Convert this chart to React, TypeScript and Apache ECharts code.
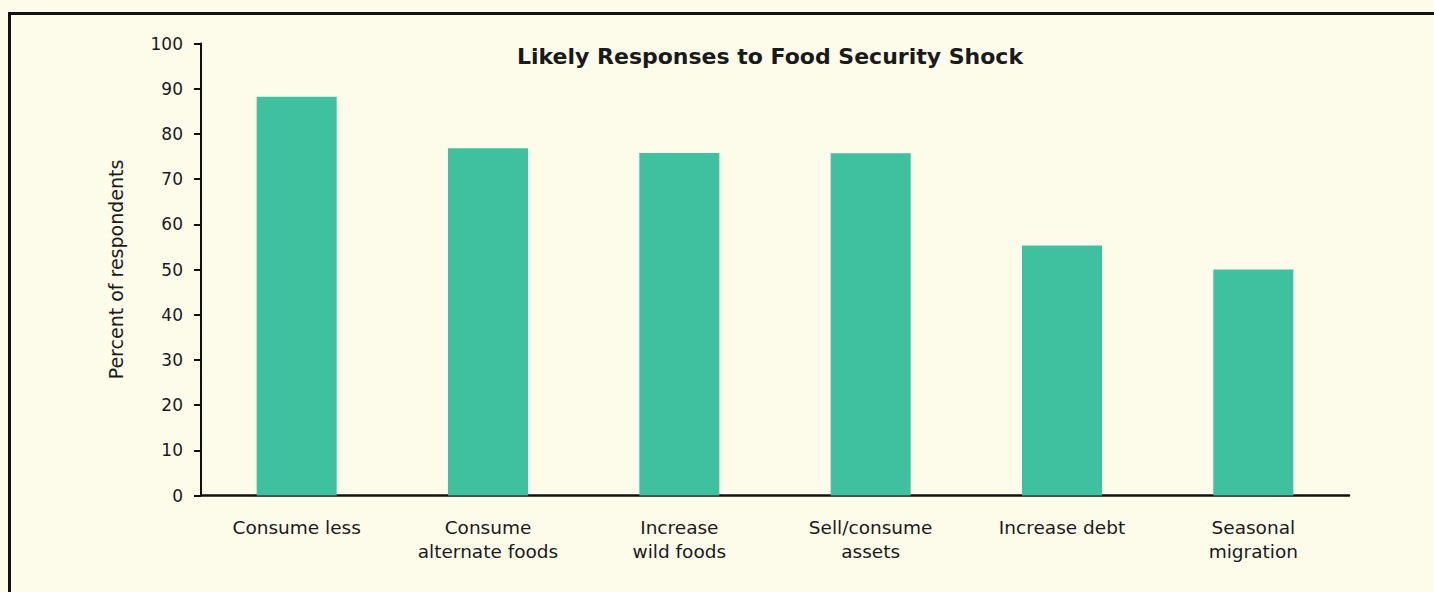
import React, { useEffect, useRef } from "react";
import * as echarts from "echarts";

const categories = [
  "Consume less",
  "Consume\nalternate foods",
  "Increase\nwild foods",
  "Sell/consume\nassets",
  "Increase debt",
  "Seasonal\nmigration",
];
const values = [88.2, 76.8, 75.8, 75.7, 55.3, 50.0];
const titleText = "Likely Responses to Food Security Shock";
const yAxisName = "Percent of respondents";

const FONT = "'DejaVu Sans', sans-serif";

export default function App() {
  const ref = useRef<HTMLDivElement>(null);
  useEffect(() => {
    if (!ref.current) return;
    const chart = echarts.init(ref.current, null, { renderer: "svg" });
    chart.setOption({
      animation: false,
      backgroundColor: "#fdfbea",
      title: {
        text: titleText,
        left: 765,
        top: 40,
        textAlign: "center",
        textStyle: { fontFamily: FONT, fontSize: 22, fontWeight: "bold", color: "#1a1a1a" },
      },
      graphic: [
        {
          type: "rect",
          shape: { x: 9.5, y: 13.5, width: 1500, height: 700 },
          style: { fill: "none", stroke: "#111", lineWidth: 3 },
          silent: true,
        },
      ],
      grid: { left: 201, right: 85, top: 43.5, bottom: 96.5, containLabel: false },
      xAxis: {
        type: "category",
        data: categories,
        axisLine: { lineStyle: { color: "#111", width: 2.5 } },
        axisTick: { show: false },
        axisLabel: {
          fontFamily: FONT,
          fontSize: 18.5,
          color: "#1a1a1a",
          margin: 20,
          lineHeight: 24,
          interval: 0,
        },
      },
      yAxis: {
        type: "value",
        min: 0,
        max: 100,
        interval: 10,
        name: yAxisName,
        nameLocation: "middle",
        nameGap: 76,
        nameTextStyle: { fontFamily: FONT, fontSize: 19, color: "#1a1a1a" },
        axisLine: { show: true, lineStyle: { color: "#111", width: 2 } },
        axisTick: { show: true, length: 7, lineStyle: { color: "#111", width: 2 } },
        axisLabel: { fontFamily: FONT, fontSize: 17, color: "#1a1a1a", margin: 18 },
        splitLine: { show: false },
      },
      series: [
        {
          type: "bar",
          data: values,
          barWidth: 80,
          itemStyle: { color: "#3fc19f" },
        },
      ],
    });
    return () => chart.dispose();
  }, []);
  return (
    <div
      ref={ref}
      style={{ position: "fixed", left: 0, top: 0, width: 1434, height: 592 }}
    />
  );
}
